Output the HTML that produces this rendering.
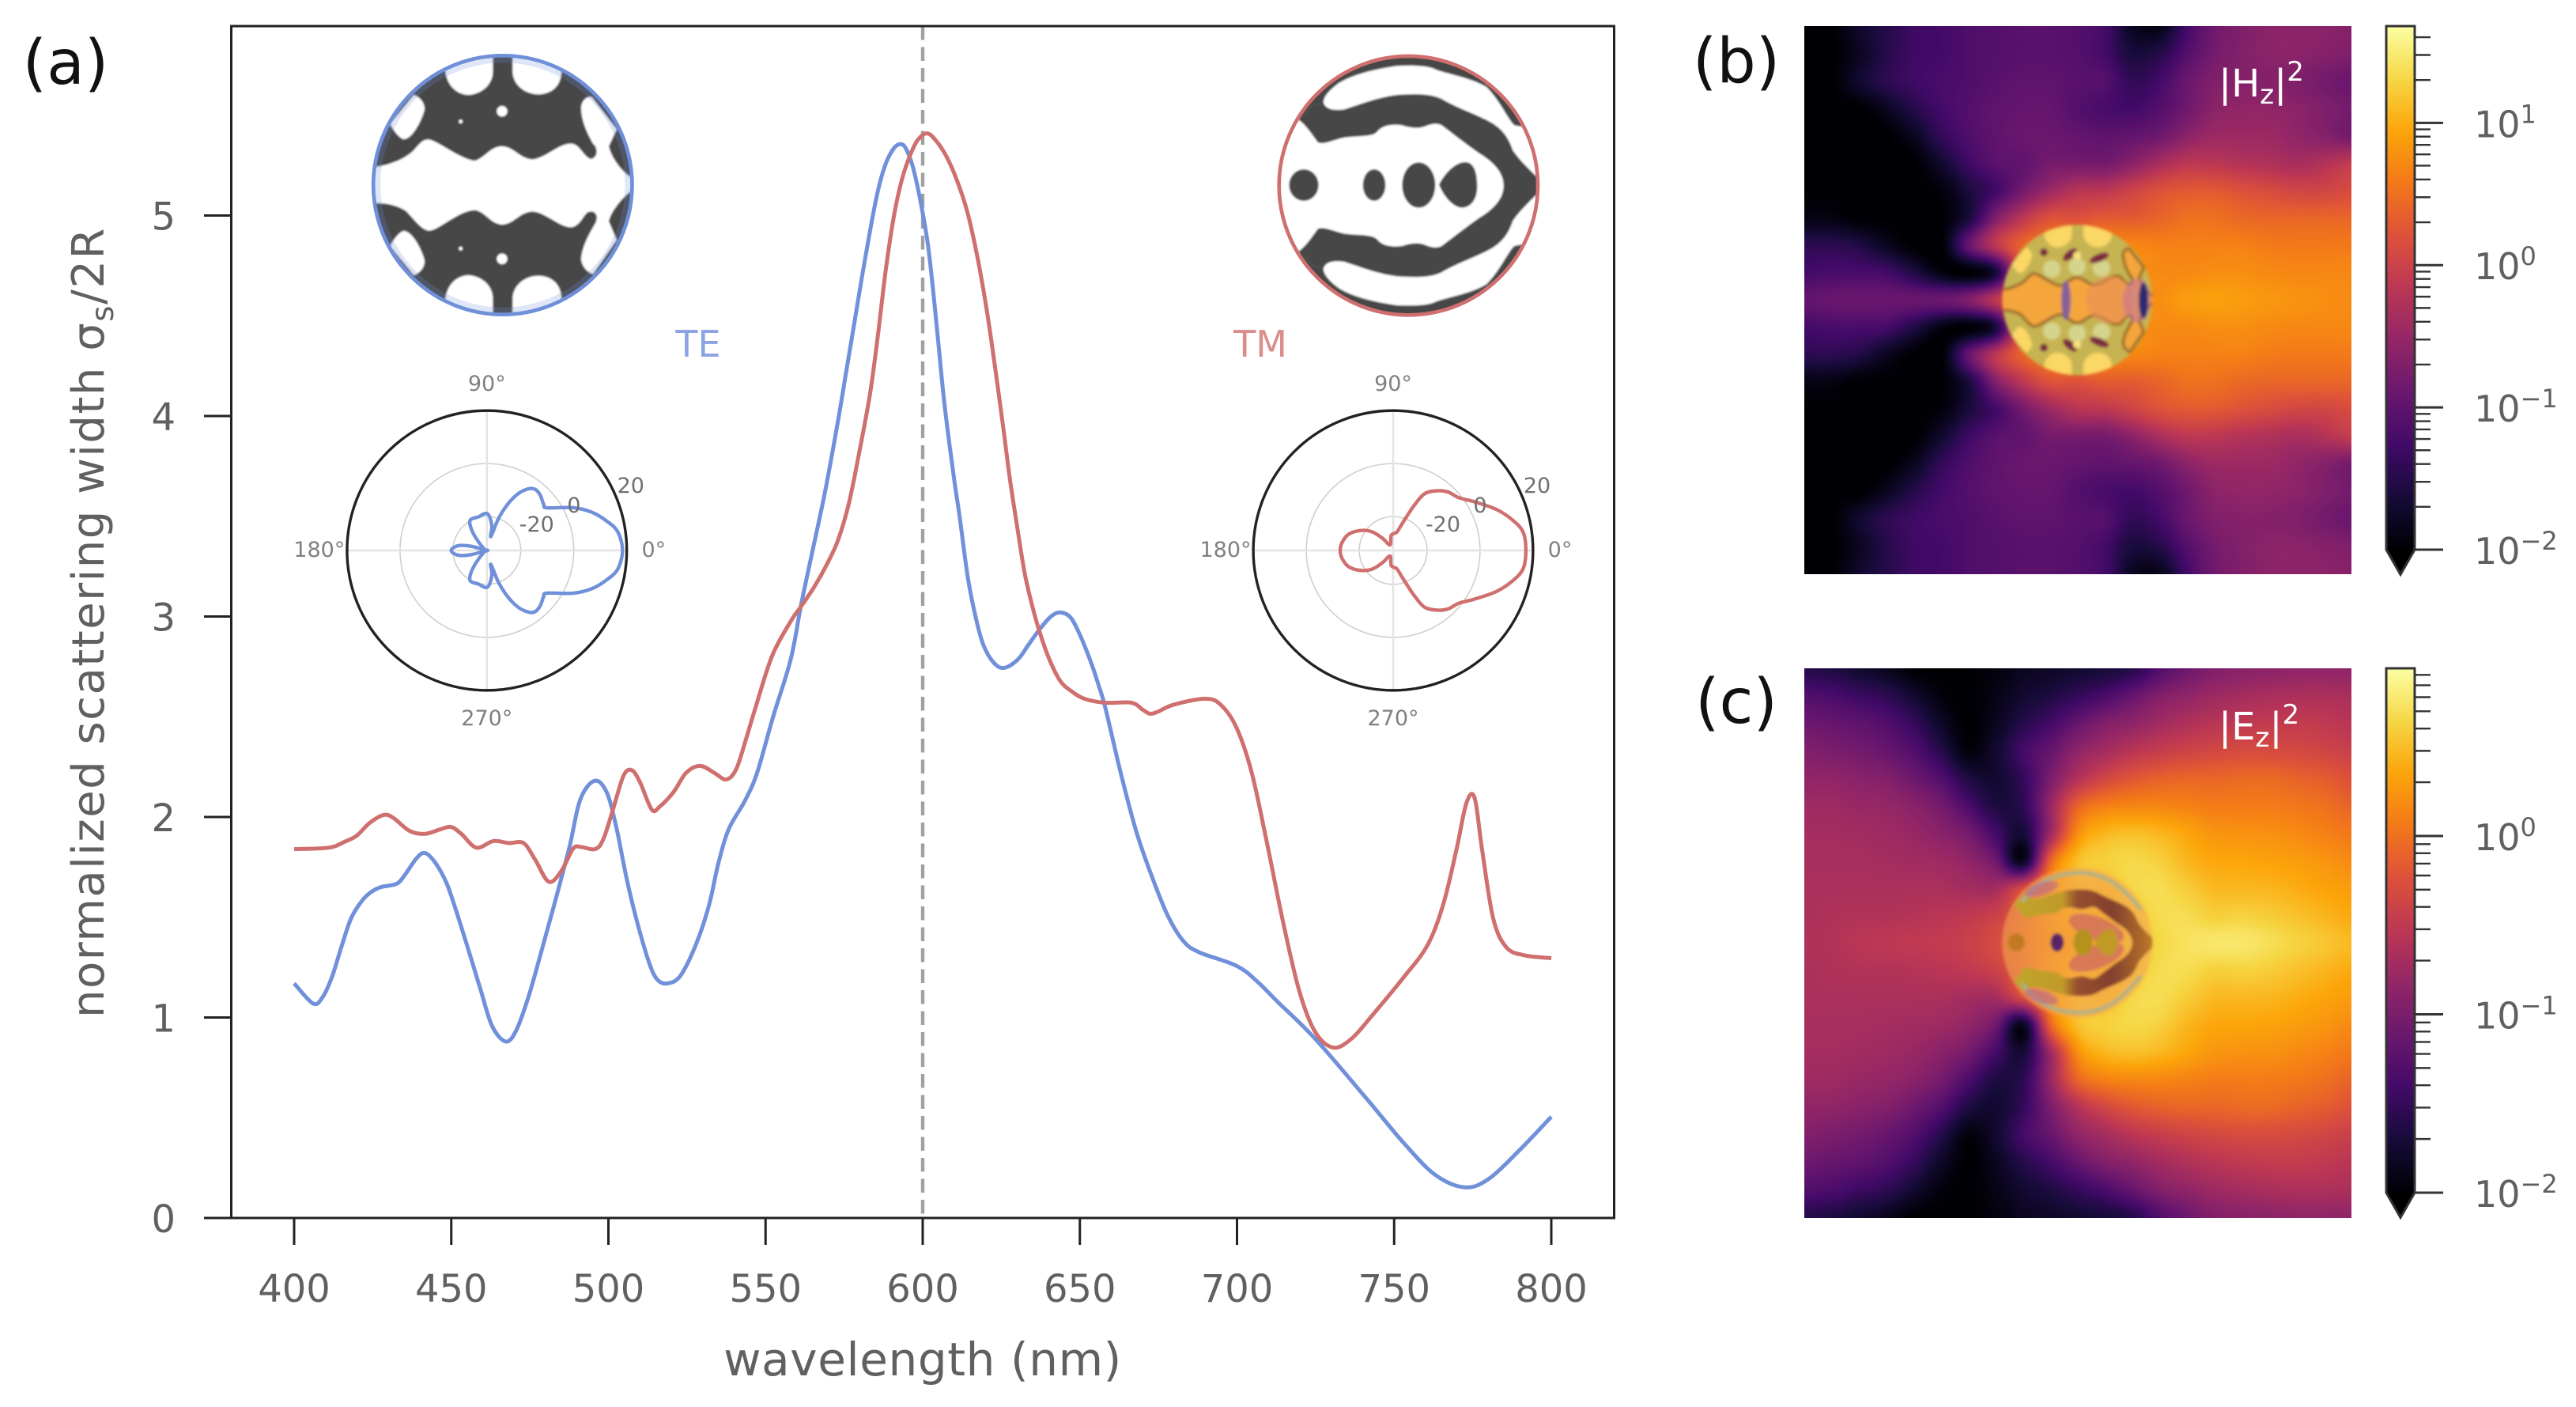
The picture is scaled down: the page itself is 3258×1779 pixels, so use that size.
<!DOCTYPE html>
<html lang="en">
<head>
<meta charset="utf-8">
<title>Scattering width spectra and near-field maps</title>
<style>
html,body{margin:0;padding:0;background:#fff;width:3258px;height:1779px;overflow:hidden}
#stage{position:relative;width:3258px;height:1779px;background:#fff}
canvas{position:absolute;display:block}
svg{position:absolute;left:0;top:0}
text{font-family:"DejaVu Sans","Liberation Sans",sans-serif}
</style>
</head>
<body>
<div id="stage">
<canvas id="hz-canvas" width="692" height="693" style="left:2282px;top:33px"></canvas>
<canvas id="ez-canvas" width="692" height="695" style="left:2282px;top:845px"></canvas>
<svg id="fig" width="3258" height="1779" viewBox="0 0 3258 1779" xmlns="http://www.w3.org/2000/svg">
<defs>
  <clipPath id="te-clip"><circle cx="707.5" cy="582" r="490"/></clipPath>
  <clipPath id="tm-clip"><circle cx="664" cy="584" r="490"/></clipPath>
  <path id="te-band" d="M150,515 L210,515 C260,510 330,490 370,450 C395,420 410,405 430,410 C470,420 540,480 600,490 C640,480 660,435 705,435 C750,437 770,480 820,485 C870,480 920,425 965,425 C1000,425 1010,470 1040,483 C1070,480 1070,440 1050,425 C1020,370 1005,330 1005,285 C1010,255 1030,245 1045,248 L1140,370 L1110,435 C1120,480 1160,530 1190,550 L1260,580 L1190,608 C1150,640 1115,690 1110,720 L1140,790 L1050,920 C1020,910 1005,880 1005,860 C1010,810 1040,760 1060,725 C1075,690 1050,675 1030,685 C1010,700 1000,740 965,742 C920,740 870,685 820,682 C770,685 750,730 705,732 C660,730 640,680 600,677 C540,680 470,750 430,755 C400,755 370,710 340,680 C300,655 260,650 210,650 L150,650 Z"/>
  <g id="te-holes">
    <path d="M490,150 C495,200 530,240 580,240 C630,235 670,200 670,150 L670,60 L490,60 Z"/>
    <path d="M745,60 L745,150 C745,200 790,238 845,238 C900,235 930,200 930,150 L930,60 Z"/>
    <path d="M370,240 C400,250 415,280 410,300 C395,350 360,410 330,408 C310,400 290,370 280,350 Z"/>
    <circle cx="705" cy="302" r="20"/>
    <circle cx="548" cy="341" r="7"/>
  </g>
  <path id="tm-arm" d="M248,335 C275,355 295,385 320,420 C345,430 380,410 420,402 C470,395 530,400 545,380 C565,355 600,350 640,355 C670,365 700,370 730,358 C750,350 770,345 790,355 C830,385 880,425 930,460 C980,490 1025,530 1025,584.5 L1200,584.5 L1145,545 C1110,510 1080,480 1060,450 C1040,390 1010,360 960,335 C900,305 850,290 790,255 C750,235 690,235 620,240 C540,250 470,280 420,295 C380,300 350,295 342,270 L300,280 Z"/>
  <path id="tm-rim" d="M342,270 C340,250 360,225 400,195 C450,165 520,145 620,130 C680,128 740,128 770,145 C830,165 900,175 960,210 C1010,260 1040,330 1065,355 L1090,360 L1250,360 L1250,20 L80,20 L80,335 L248,335 L300,280 Z"/>
  <linearGradient id="cbar-gradient" x1="0" y1="1" x2="0" y2="0">
    <stop offset="0" stop-color="#000004"/><stop offset=".1" stop-color="#160b39"/><stop offset=".2" stop-color="#420a68"/><stop offset=".3" stop-color="#6a176e"/><stop offset=".4" stop-color="#932667"/><stop offset=".5" stop-color="#bc3754"/><stop offset=".6" stop-color="#dd513a"/><stop offset=".7" stop-color="#f37819"/><stop offset=".8" stop-color="#fca50a"/><stop offset=".9" stop-color="#f6d746"/><stop offset="1" stop-color="#fcffa4"/>
  </linearGradient>
  <linearGradient id="ez-arm-gradient" gradientUnits="userSpaceOnUse" x1="248" y1="0" x2="1165" y2="0">
    <stop offset="0" stop-color="#bfa52c"/><stop offset=".35" stop-color="#c19a2a"/><stop offset=".45" stop-color="#97502f"/><stop offset=".7" stop-color="#83402f"/><stop offset="1" stop-color="#bd7a28"/>
  </linearGradient>
  <filter id="soft" x="-10%" y="-10%" width="120%" height="120%"><feGaussianBlur stdDeviation="1.8"/></filter>
  <filter id="soft-pattern" x="-10%" y="-10%" width="120%" height="120%"><feGaussianBlur stdDeviation="3"/></filter>
</defs>

<g id="panel-a">
  <line id="ref-line" stroke="#a0a0a0" stroke-width="4.4" stroke-dasharray="17.5 9"/>
  <path id="curve-te" fill="none" stroke="#7090da" stroke-width="5" stroke-linejoin="round"/>
  <path id="curve-tm" fill="none" stroke="#cf6f6e" stroke-width="5" stroke-linejoin="round"/>
  <rect id="axes-frame" x="292.5" y="33" width="1749" height="1507" fill="none" stroke="#222" stroke-width="3"/>
  <g id="a-ticks"></g>
  <text x="1167" y="1739" text-anchor="middle" font-size="58" fill="#606060" letter-spacing=".6">wavelength (nm)</text>
  <text transform="translate(131,787) rotate(-90)" text-anchor="middle" font-size="56" fill="#606060" letter-spacing="1.5">normalized scattering width σ<tspan font-size="39" dy="12">s</tspan><tspan dy="-12">/2R</tspan></text>
  <text x="83" y="106" text-anchor="middle" font-size="78" fill="#111">(a)</text>
  <text x="883" y="451" text-anchor="middle" font-size="46" fill="#8ba3e2">TE</text>
  <text x="1594" y="451" text-anchor="middle" font-size="46" fill="#da8d8c">TM</text>

  <g transform="translate(400,40) scale(.33333)">
    <g clip-path="url(#te-clip)" filter="url(#soft-pattern)">
      <circle cx="707.5" cy="582" r="490" fill="#474747"/>
      <use href="#te-band" fill="#fff"/>
      <use href="#te-holes" fill="#fff"/>
      <use href="#te-holes" fill="#fff" transform="translate(0,1164) scale(1,-1)"/>
    </g>
    <circle cx="707.5" cy="582" r="476" fill="none" stroke="#6f8fd9" stroke-opacity=".22" stroke-width="24"/>
    <circle cx="707.5" cy="582" r="491" fill="none" stroke="#6f8fd9" stroke-width="14"/>
  </g>

  <g transform="translate(1560,40) scale(.33333)">
    <g clip-path="url(#tm-clip)" filter="url(#soft-pattern)">
      <circle cx="664" cy="584" r="490" fill="#fff"/>
      <g id="tm-half" fill="#474747">
        <use href="#tm-arm"/>
        <use href="#tm-rim"/>
      </g>
      <use href="#tm-half" transform="translate(0,1168) scale(1,-1)"/>
      <ellipse cx="267" cy="582" rx="56" ry="60" fill="#474747"/>
      <ellipse cx="534" cy="582" rx="43" ry="60" fill="#474747"/>
      <ellipse cx="703" cy="582" rx="63" ry="86" fill="#474747"/>
      <path d="M780,580 C800,540 840,495 880,495 C915,495 925,540 925,590 C925,630 905,668 865,668 C830,665 795,620 780,580 Z" fill="#474747"/>
    </g>
    <circle cx="664" cy="584" r="491" fill="none" stroke="#cf6f6e" stroke-width="14"/>
  </g>

  <g id="polar-te"></g>
  <g id="polar-tm"></g>
</g>

<g id="panel-b">
  <text x="2196" y="104" text-anchor="middle" font-size="78" fill="#111">(b)</text>
  <g filter="url(#soft)">
    <g transform="translate(2490.25,266.39) scale(.194)">
      <g clip-path="url(#te-clip)">
        <circle cx="707.5" cy="582" r="490" fill="#c6b452"/>
        <use href="#te-band" fill="#f4a63c" stroke="#a0702a" stroke-width="20"/>
        <use href="#te-holes" fill="#fbd765"/>
        <use href="#te-holes" fill="#fbd765" transform="translate(0,1164) scale(1,-1)"/>
      </g>
    </g>
    <ellipse cx="2668" cy="379" rx="30" ry="30" fill="#e8905a" opacity=".6"/>
    <ellipse cx="2613" cy="380" rx="6" ry="25" fill="#7454a8" opacity=".85"/>
    <ellipse cx="2703" cy="380" rx="18" ry="28" fill="#c271a2" opacity=".55"/>
    <ellipse cx="2711" cy="380" rx="6" ry="23" fill="#2c2a70"/>
    <g id="hz-details">
      <circle cx="2595" cy="340" r="11" fill="#d4d48c"/>
      <circle cx="2627" cy="337" r="11" fill="#d4d48c"/>
      <circle cx="2658" cy="339" r="11" fill="#d4d48c"/>
      <ellipse cx="2585" cy="319" rx="5" ry="5" fill="#7a2a40"/>
      <ellipse cx="2618" cy="322" rx="11" ry="5" fill="#7a2a40" transform="rotate(-40 2618 322)"/>
      <ellipse cx="2655" cy="326" rx="13" ry="5" fill="#7a2a40" transform="rotate(-22 2655 326)"/>
      <circle cx="2627" cy="323" r="5" fill="#fbe080"/>
    </g>
    <use href="#hz-details" transform="translate(0,758.6) scale(1,-1)"/>
  </g>
  <text x="2806" y="122" font-size="48" fill="#fff">|H<tspan font-size="34" dy="9">z</tspan><tspan dy="-9">|</tspan><tspan font-size="34" dy="-20">2</tspan></text>
  <g id="cbar-b"></g>
</g>

<g id="panel-c">
  <text x="2196" y="914" text-anchor="middle" font-size="78" fill="#111">(c)</text>
  <g filter="url(#soft)">
    <g transform="translate(2498.18,1078.7) scale(.194)">
      <g clip-path="url(#tm-clip)">
        <circle cx="664" cy="584" r="490" fill="#f2a654" opacity=".6"/>
        <ellipse cx="790" cy="490" rx="190" ry="75" fill="#cd6a62" opacity=".75" transform="rotate(20 790 490)"/>
        <ellipse cx="790" cy="678" rx="190" ry="75" fill="#cd6a62" opacity=".75" transform="rotate(-20 790 678)"/>
        <g id="ez-half">
          <use href="#tm-arm" fill="url(#ez-arm-gradient)"/>
        </g>
        <use href="#ez-half" transform="translate(0,1168) scale(1,-1)"/>
        <ellipse cx="267" cy="582" rx="56" ry="60" fill="#c27a22"/>
        <ellipse cx="534" cy="582" rx="43" ry="60" fill="#5b2266"/>
        <ellipse cx="703" cy="582" rx="63" ry="86" fill="#b4921f"/>
        <path d="M780,580 C800,540 840,495 880,495 C915,495 925,540 925,590 C925,630 905,668 865,668 C830,665 795,620 780,580 Z" fill="#c09a20"/>
      </g>
      <path id="ez-rim-top" d="M310,310 C380,215 470,155 600,135 C690,122 770,130 830,158 C920,190 990,260 1075,360" fill="none" stroke="#aeb088" stroke-width="24" stroke-linecap="round"/>
      <use href="#ez-rim-top" transform="translate(0,1168) scale(1,-1)"/>
    </g>
    <ellipse cx="2582" cy="1124" rx="22" ry="8" fill="#b06098" opacity=".55" transform="rotate(-18 2582 1124)"/>
    <ellipse cx="2582" cy="1260" rx="22" ry="8" fill="#b06098" opacity=".55" transform="rotate(18 2582 1260)"/>
  </g>
  <text x="2806" y="935" font-size="48" fill="#fff">|E<tspan font-size="34" dy="9">z</tspan><tspan dy="-9">|</tspan><tspan font-size="34" dy="-20">2</tspan></text>
  <g id="cbar-c"></g>
</g>
</svg>
</div>

<script>
// ---------- spectrum data (wavelength nm, normalized scattering width) ----------
const wavelengthsTE = [400,406,409,412,415,418,421,424,427.5,432.5,435,439,441.7,445,448.5,451.6,455.5,459.3,463,467.4,470.8,474.7,478.5,483,487.6,491,495.5,499.4,502.5,505.7,508.9,512.8,515.5,518.8,523,528,532,535,538.3,543.4,547.3,552.4,558,561.3,564.7,568.9,573.1,575.6,578.1,580.6,583.2,585.7,588.2,590.8,592.9,594.5,596.6,598.3,600,601.7,603.4,605,606.7,608.4,610.1,611.8,614.3,616.8,619.3,622.7,626,630.3,633.6,637.4,640.8,643.7,647.1,650.4,653.8,655.9,658.1,663,668,673,678,683,688,699.8,706.4,713,724.8,741.5,753,763,772.4,780,790,800];
const valuesTE = [1.17,1.07,1.10,1.2,1.35,1.49,1.57,1.62,1.65,1.666,1.706,1.795,1.82,1.77,1.67,1.53,1.335,1.14,.957,.88,.94,1.11,1.32,1.577,1.85,2.085,2.18,2.125,1.95,1.70,1.49,1.28,1.19,1.17,1.21,1.37,1.56,1.77,1.94,2.08,2.22,2.5,2.786,3.058,3.31,3.62,3.98,4.216,4.45,4.687,4.92,5.12,5.257,5.335,5.356,5.338,5.257,5.148,5.012,4.85,4.614,4.361,4.09,3.872,3.673,3.492,3.2,3.0,2.858,2.768,2.744,2.786,2.858,2.94,3.0,3.02,2.994,2.895,2.76,2.66,2.545,2.22,1.925,1.70,1.507,1.38,1.325,1.258,1.18,1.077,.895,.59,.375,.216,.153,.194,.34,.505];
const wavelengthsTM = [400,411,416,420,424,428.5,431.6,436.8,441.7,446.8,450,453.2,458,463.4,468.4,473,476.7,481,485,488.8,491.4,495.8,498.4,501.6,504.8,507.4,510,513.8,516.4,520.8,524.7,529.2,533.7,537.5,540.7,544,546.5,552,558,561.3,565.5,569.7,573.1,576.5,579.8,583.2,585.7,588.2,590.8,593.3,595.8,598.3,601.3,604.2,607.6,610.9,614.3,617.6,620.6,623.1,625.6,627.7,629.8,632.4,634.9,637.4,640.3,643.7,647.1,651.4,658,666.4,670,672.3,674.8,679.8,689.8,694.8,699.8,704.7,709.7,714.7,719.8,724.8,730.6,736.5,743,753,760.6,765.6,769.8,773,775.6,778,781.5,785.7,791.5,800];
const valuesTM = [1.84,1.847,1.876,1.908,1.97,2.01,1.995,1.93,1.916,1.94,1.95,1.916,1.847,1.88,1.87,1.87,1.787,1.677,1.73,1.843,1.85,1.84,1.89,2.045,2.206,2.234,2.175,2.037,2.053,2.126,2.22,2.255,2.22,2.187,2.24,2.40,2.53,2.8,2.976,3.05,3.148,3.266,3.383,3.564,3.818,4.107,4.397,4.723,4.994,5.175,5.293,5.374,5.41,5.374,5.293,5.175,5.012,4.777,4.506,4.234,3.945,3.69,3.474,3.22,3.05,2.913,2.786,2.68,2.63,2.59,2.57,2.57,2.535,2.515,2.525,2.56,2.59,2.56,2.447,2.22,1.858,1.473,1.133,.93,.85,.895,1.01,1.20,1.36,1.563,1.835,2.07,2.095,1.835,1.495,1.35,1.31,1.296];
const xTickLabels = [400,450,500,550,600,650,700,750,800];
const yTickLabels = [0,1,2,3,4,5];
const referenceWavelength = 600;

// ---------- radiation patterns (angle deg, dB), mirrored about 0-180 ----------
const polarAnglesTE = [0,8.1,13.6,20.1,26.4,35.4,39,46,51.7,55.9,61.1,65.8,70,72.7,76,78.2,86,92.4,103.6,118.5,125.4,131.7,151,165,165.3,170.8,180];
const polarDbTE = [18.4,17.1,13.9,9.3,3.5,-5,-5.2,-3.8,-3.4,-4.7,-8.3,-13.7,-20,-26.5,-27.1,-23.6,-19.8,-18.8,-19.7,-19.7,-22.4,-26.7,-31.6,-32.8,-26.6,-21.7,-19.3];
const polarAnglesTM = [0,8.2,15,22,31,38.8,46.7,53.3,61,65,70.2,78,85.7,98,120,131,138.4,148.7,160,171,180];
const polarDbTM = [17.3,16.7,13.3,8.9,2.9,-1,-2.5,-4.7,-8.3,-14.1,-21.1,-25.6,-26.3,-27.2,-30.4,-26.8,-22.2,-18.3,-14.9,-13.3,-12.8];
const polarRingDb = [-20,0,20];
const polarAngleTicks = [0,90,180,270];

// ---------- field maps: log10 intensity, rows from top edge to centre line (mirrored below) ----------
const hzRows = [
[-2,-2,-1.7,-1.5,-1.3,-1.25,-1.15,-1.1,-1.05,-1.05,-1.1,-1.25,-1.8,-1.85,-1.25,-.85,-.7,-.6,-.6,-.6,-.65],
[-2,-2,-1.8,-1.5,-1.3,-1.25,-1.15,-1.1,-1.05,-1.05,-1.1,-1.25,-1.6,-1.5,-1.1,-.8,-.68,-.6,-.6,-.65,-.7],
[-2,-2,-1.7,-1.45,-1.3,-1.2,-1.15,-1.05,-1,-1,-1.05,-1.1,-1.4,-1.25,-.9,-.7,-.65,-.65,-.7,-.8,-.9],
[-2,-2,-2,-1.8,-1.5,-1.25,-1.1,-1,-.95,-.95,-1.1,-1.2,-1.25,-1.1,-.85,-.6,-.55,-.55,-.6,-.7,-.8],
[-2,-2,-2,-2,-1.8,-1.4,-1.15,-1,-.9,-.9,-.95,-1,-.95,-.85,-.6,-.45,-.45,-.45,-.55,-.65,-.8],
[-2,-2,-2,-2,-2,-1.7,-1.3,-1.05,-.97,-.8,-.8,-.8,-.6,-.34,-.16,-.16,-.23,-.27,-.34,-.25,-.1],
[-2,-2,-2,-2,-2,-1.95,-1.6,-1.25,-.8,-.45,-.2,-.16,.02,.2,.28,.28,.2,.13,.06,.06,.13],
[-1.9,-1.9,-2,-2,-2,-2,-1.6,-.7,-.16,.2,.2,.3,.3,.39,.5,.5,.43,.4,.4,.4,.4],
[-1.45,-1.45,-1.55,-1.8,-2,-2,-.95,-.16,.4,.6,.7,.7,.7,.65,.65,.65,.65,.6,.58,.58,.58],
[-1.25,-1.2,-1.2,-1.25,-1.55,-1.9,-2,-1.6,.3,.7,.8,.8,.8,.72,.72,.76,.76,.72,.7,.7,.7],
[-.97,-.92,-.92,-.92,-.92,-.9,-.7,-.16,.6,.7,.6,.7,.75,.76,.87,.9,.87,.83,.8,.76,.72]
];
const ezRows = [
[-1.6,-1.65,-1.75,-1.85,-2,-2,-2,-1.95,-1.85,-1.8,-1.75,-1.7,-1.6,-1.3,-1.1,-.95,-.9,-.88,-.85,-.85,-.85],
[-1.3,-1.35,-1.45,-1.55,-1.75,-1.95,-2,-1.9,-1.75,-1.65,-1.5,-1.35,-1.15,-.95,-.85,-.75,-.7,-.66,-.64,-.64,-.66],
[-1.1,-1.15,-1.2,-1.3,-1.5,-1.8,-2,-1.85,-1.6,-1.4,-1.15,-.95,-.85,-.72,-.62,-.55,-.5,-.48,-.47,-.5,-.55],
[-.95,-1,-1.05,-1.15,-1.3,-1.6,-1.95,-1.75,-1.4,-1.15,-.85,-.7,-.55,-.45,-.38,-.33,-.3,-.3,-.32,-.36,-.42],
[-.85,-.85,-.9,-.95,-1.1,-1.3,-1.65,-1.75,-1.5,-1,-.6,-.35,-.2,-.12,-.08,-.08,-.05,-.05,-.1,-.15,-.24],
[-.75,-.75,-.8,-.82,-.9,-1.05,-1.35,-1.65,-1.55,-.8,-.1,.1,.15,.15,.12,.08,.08,.08,.05,0,-.09],
[-.7,-.7,-.72,-.75,-.8,-.9,-1.05,-1.4,-1.7,-.75,.2,.45,.5,.45,.35,.25,.23,.22,.18,.12,.06],
[-.68,-.68,-.68,-.7,-.72,-.75,-.85,-1.1,-1.85,-.1,.5,.6,.65,.6,.45,.36,.35,.33,.3,.25,.18],
[-.65,-.65,-.65,-.65,-.65,-.65,-.7,-.7,-.3,.2,.5,.5,.65,.68,.58,.47,.46,.45,.4,.34,.29],
[-.65,-.62,-.6,-.6,-.58,-.55,-.5,-.4,-.15,.2,.4,.4,.55,.68,.68,.6,.62,.58,.52,.45,.38],
[-.62,-.6,-.55,-.52,-.5,-.48,-.42,-.3,-.1,.15,.3,.4,.55,.65,.72,.76,.76,.7,.62,.55,.47]
];
const hzLogRange = [-2,1.68];
const ezLogRange = [-2,.94];
const hzDecades = [-2,-1,0,1];
const ezDecades = [-2,-1,0];
const minorMultipliers = [2,3,4,5,6,7,8,9];
const infernoStops = ["#000004","#160b39","#420a68","#6a176e","#932667","#bc3754","#dd513a","#f37819","#fca50a","#f6d746","#fcffa4"];

// ---------- axis functions ----------
const NS = 'http://www.w3.org/2000/svg';
const xAxis = w => 372 + (w - 400) * 3.975;
const yAxis = v => 1540 - v * 253.5;

function make(tag, attrs, parent, txt) {
  const el = document.createElementNS(NS, tag);
  for (const k in attrs) el.setAttribute(k, attrs[k]);
  if (txt !== undefined) el.textContent = txt;
  parent.appendChild(el);
  return el;
}
function spline(pts, closed) {
  const n = pts.length;
  const at = i => closed ? pts[(i + n) % n] : pts[Math.max(0, Math.min(n - 1, i))];
  let d = 'M' + pts[0][0].toFixed(2) + ',' + pts[0][1].toFixed(2);
  const last = closed ? n : n - 1;
  for (let i = 0; i < last; i++) {
    const p0 = at(i - 1), p1 = at(i), p2 = at(i + 1), p3 = at(i + 2);
    const c1x = p1[0] + (p2[0] - p0[0]) / 6, c1y = p1[1] + (p2[1] - p0[1]) / 6;
    const c2x = p2[0] - (p3[0] - p1[0]) / 6, c2y = p2[1] - (p3[1] - p1[1]) / 6;
    d += 'C' + c1x.toFixed(2) + ',' + c1y.toFixed(2) + ' ' + c2x.toFixed(2) + ',' + c2y.toFixed(2) + ' ' + p2[0].toFixed(2) + ',' + p2[1].toFixed(2);
  }
  return closed ? d + 'Z' : d;
}

// ---------- main curves ----------
document.getElementById('curve-te').setAttribute('d', spline(wavelengthsTE.map((w, i) => [xAxis(w), yAxis(valuesTE[i])]), false));
document.getElementById('curve-tm').setAttribute('d', spline(wavelengthsTM.map((w, i) => [xAxis(w), yAxis(valuesTM[i])]), false));
const refLine = document.getElementById('ref-line');
refLine.setAttribute('x1', xAxis(referenceWavelength));
refLine.setAttribute('x2', xAxis(referenceWavelength));
refLine.setAttribute('y1', 33);
refLine.setAttribute('y2', 1540);

// ---------- main ticks ----------
const aTicks = document.getElementById('a-ticks');
xTickLabels.forEach(w => {
  const tick = make('line', {x1: xAxis(w), x2: xAxis(w), y1: 1540, y2: 1574, stroke: '#222', 'stroke-width': 3}, aTicks);
  
  
  const label = make('text', {x: xAxis(w), y: 1646, 'text-anchor': 'middle', 'font-size': 48, fill: '#606060'}, aTicks, String(w));
  
  
});
yTickLabels.forEach(v => {
  const tick = make('line', {x1: 258, x2: 292.5, y1: yAxis(v), y2: yAxis(v), stroke: '#222', 'stroke-width': 3}, aTicks);
  
  
  const label = make('text', {x: 222, y: yAxis(v) + 18, 'text-anchor': 'end', 'font-size': 48, fill: '#606060'}, aTicks, String(v));
  
  
});

// ---------- polar insets ----------
function drawPolar(group, cx, cy, angles, dbs, color) {
  const rAxis = db => (db + 32.8) * 3.35;
  const pt = (a, db) => [cx + rAxis(db) * Math.cos(a * Math.PI / 180), cy - rAxis(db) * Math.sin(a * Math.PI / 180)];
  polarRingDb.slice(0, 2).forEach(db => {
    const ring = make('circle', {cx, cy, r: rAxis(db), fill: 'none', stroke: '#cfcfcf', 'stroke-width': 1.6}, group);
    
    
  });
  polarAngleTicks.forEach(a => {
    const e = pt(a, polarRingDb[2]);
    const spoke = make('line', {x1: cx, y1: cy, x2: e[0], y2: e[1], stroke: '#e4e4e4', 'stroke-width': 2.6}, group);
    
    
  });
  const outer = make('circle', {cx, cy, r: rAxis(polarRingDb[2]), fill: 'none', stroke: '#222', 'stroke-width': 3.4}, group);
  
  
  const upper = angles.map((a, i) => pt(a, dbs[i]));
  const lower = angles.slice(1, -1).map((a, i) => pt(-a, dbs[i + 1])).reverse();
  const lobe = make('path', {d: spline(upper.concat(lower), true), fill: 'none', stroke: color, 'stroke-width': 4.4, 'stroke-linejoin': 'round'}, group);
  
  
  const angleLabels = [[0, '0°', 211, 8], [90, '90°', 0, -202], [180, '180°', -212, 8], [270, '270°', 0, 221]];
  angleLabels.forEach(t => {
    const lab = make('text', {x: cx + t[2], y: cy + t[3], 'text-anchor': 'middle', 'font-size': 27, fill: '#808080'}, group, t[1]);
    
    
  });
  const ringLabelOffsets = [[63, -24], [110, -48], [182, -73]];
  polarRingDb.forEach((db, i) => {
    const lab = make('text', {x: cx + ringLabelOffsets[i][0], y: cy + ringLabelOffsets[i][1], 'text-anchor': 'middle', 'font-size': 27, fill: '#707070'}, group, String(db));
    
    
  });
}
drawPolar(document.getElementById('polar-te'), 615.8, 696, polarAnglesTE, polarDbTE, '#7090da');
drawPolar(document.getElementById('polar-tm'), 1762, 696, polarAnglesTM, polarDbTM, '#cf6f6e');

// ---------- field maps ----------
const stopsRGB = infernoStops.map(h => [parseInt(h.slice(1, 3), 16), parseInt(h.slice(3, 5), 16), parseInt(h.slice(5, 7), 16)]);
function inferno(f) {
  f = Math.max(0, Math.min(1, f)) * (stopsRGB.length - 1);
  const i = Math.min(stopsRGB.length - 2, Math.floor(f)), t = f - i;
  return [0, 1, 2].map(c => stopsRGB[i][c] + (stopsRGB[i + 1][c] - stopsRGB[i][c]) * t);
}
function cubicWeights(t) {
  return [(-t + 2 * t * t - t * t * t) / 2, (2 - 5 * t * t + 3 * t * t * t) / 2, (t + 4 * t * t - 3 * t * t * t) / 2, (-t * t + t * t * t) / 2];
}
function drawField(id, rows, range) {
  const cv = document.getElementById(id), ctx = cv.getContext('2d');
  const W = cv.width, H = cv.height, img = ctx.createImageData(W, H);
  const nc = rows[0].length - 1, half = rows.length - 1, nr = half * 2;
  const rowAt = r => { r = Math.max(0, Math.min(nr, r)); return rows[r > half ? nr - r : r]; };
  for (let y = 0; y < H; y++) {
    const gy = y / (H - 1) * nr, r0 = Math.min(nr - 1, Math.floor(gy)), wy = cubicWeights(gy - r0);
    const rr = [rowAt(r0 - 1), rowAt(r0), rowAt(r0 + 1), rowAt(r0 + 2)];
    for (let x = 0; x < W; x++) {
      const gx = x / (W - 1) * nc, c0 = Math.min(nc - 1, Math.floor(gx)), wx = cubicWeights(gx - c0);
      let v = 0;
      for (let a = 0; a < 4; a++) {
        for (let b = 0; b < 4; b++) {
          const col = Math.max(0, Math.min(nc, c0 - 1 + b));
          v += wy[a] * wx[b] * rr[a][col];
        }
      }
      const rgb = inferno((v - range[0]) / (range[1] - range[0]));
      const p = (y * W + x) * 4;
      img.data[p] = rgb[0]; img.data[p + 1] = rgb[1]; img.data[p + 2] = rgb[2]; img.data[p + 3] = 255;
    }
  }
  ctx.putImageData(img, 0, 0);
}
drawField('hz-canvas', hzRows, hzLogRange);
drawField('ez-canvas', ezRows, ezLogRange);

// ---------- colorbars ----------
function drawColorbar(group, top, bottom, tip, range, decades) {
  const L = 3018, R = 3054;
  const cbY = lg => bottom - (lg - range[0]) * (bottom - top) / (range[1] - range[0]);
  const bar = make('rect', {x: L, y: top, width: R - L, height: bottom - top, fill: 'url(#cbar-gradient)'}, group);
  
  
  const arrow = make('polygon', {points: L + ',' + bottom + ' ' + R + ',' + bottom + ' ' + (L + R) / 2 + ',' + tip, fill: '#000'}, group);
  
  
  const frame = make('path', {d: 'M' + L + ',' + bottom + 'V' + top + 'H' + R + 'V' + bottom + 'L' + (L + R) / 2 + ',' + tip + 'Z', fill: 'none', stroke: '#333', 'stroke-width': 3}, group);
  
  
  decades.forEach(d => {
    const y = cbY(d);
    const major = make('line', {x1: R, x2: R + 36, y1: y, y2: y, stroke: '#333', 'stroke-width': 3}, group);
    
    
    const lab = make('text', {x: 3129, y: y + 18, 'font-size': 46, fill: '#606060'}, group, '10');
    
    
    make('tspan', {'font-size': 32, dy: -18}, lab, String(d).replace('-', '\u2212'));
    minorMultipliers.forEach(m => {
      const lg = d + Math.log10(m);
      if (lg > range[1]) return;
      const yy = cbY(lg);
      const minor = make('line', {x1: R, x2: R + 20, y1: yy, y2: yy, stroke: '#333', 'stroke-width': 2.4}, group);
      
      
    });
  });
}
drawColorbar(document.getElementById('cbar-b'), 33, 695, 726.5, hzLogRange, hzDecades);
drawColorbar(document.getElementById('cbar-c'), 845, 1508, 1539.5, ezLogRange, ezDecades);
</script>
</body>
</html>
